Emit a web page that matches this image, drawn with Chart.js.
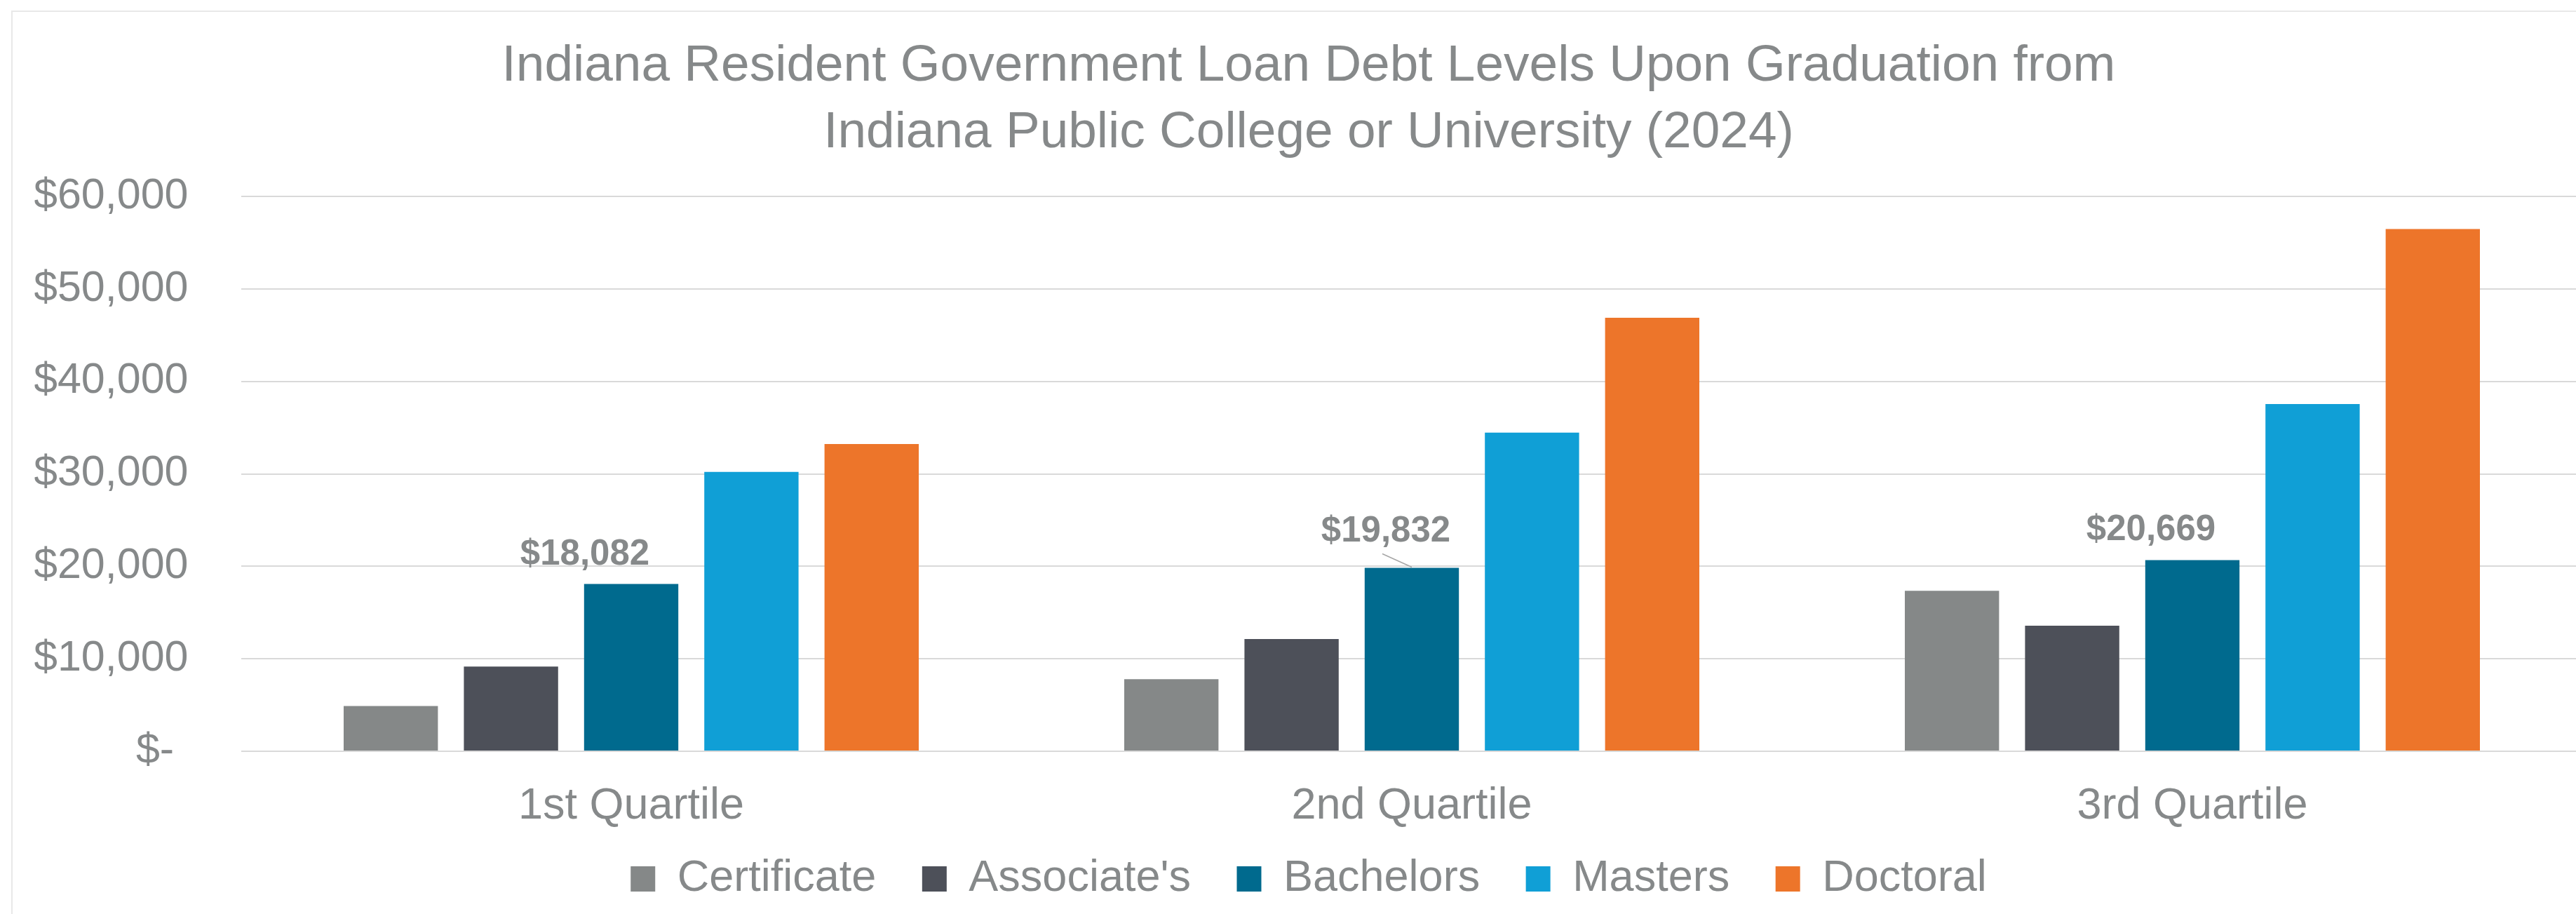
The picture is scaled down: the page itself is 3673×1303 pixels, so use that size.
<!DOCTYPE html>
<html>
<head>
<meta charset="utf-8">
<script src="https://cdn.jsdelivr.net/npm/chart.js@4.4.1/dist/chart.umd.min.js"></script>
<style>
html,body{margin:0;padding:0;background:#ffffff;overflow:hidden;}
#wrap{position:relative;width:3700px;height:1303px;}
</style>
</head>
<body>
<div id="wrap"><canvas id="c"></canvas></div>
<script>
// ---- data ----
const categories = ['1st Quartile', '2nd Quartile', '3rd Quartile'];
const seriesNames = ['Certificate', "Associate's", 'Bachelors', 'Masters', 'Doctoral'];
const certificate = [4890, 7790, 17350];
const associates = [9150, 12140, 13570];
const bachelors = [18082, 19832, 20669];
const masters = [30210, 34450, 37550];
const doctoral = [33220, 46880, 56480];
const yTickValues = [0, 10000, 20000, 30000, 40000, 50000, 60000];
const titleLines = ['Indiana Resident Government Loan Debt Levels Upon Graduation from',
                    'Indiana Public College or University (2024)'];
const labelledSeriesIndex = 2; // Bachelors values are labelled

// ---- styles ----
const seriesColors = ['#858888', '#4D5059', '#006A8E', '#109FD6', '#ED752A'];
const textColor = '#86898A';
const gridColor = '#D9D9D9';
const FONT = '"Liberation Sans", Arial, sans-serif';
// label placement relative to its bar (style only)
const labelStyle = [
  {dx: -66, dy: -28, leader: false},
  {dx: -37, dy: -38, leader: true},
  {dx: -59, dy: -29, leader: false}
];

const seriesValues = [certificate, associates, bachelors, masters, doctoral];

function money(v) {
  if (v === 0) return '$-\u2004';
  return '$' + Math.round(v).toLocaleString('en-US');
}

const chartBorder = {
  id: 'chartBorder',
  beforeDraw(chart) {
    const ctx = chart.ctx;
    ctx.save();
    ctx.fillStyle = '#ffffff';
    ctx.fillRect(0, 0, chart.width, chart.height);
    ctx.strokeStyle = '#E8E8E8';
    ctx.lineWidth = 2;
    ctx.strokeRect(17, 16, chart.width + 100, chart.height + 100);
    ctx.restore();
  }
};

const valueLabels = {
  id: 'valueLabels',
  afterDatasetsDraw(chart) {
    const ctx = chart.ctx;
    const meta = chart.getDatasetMeta(labelledSeriesIndex);
    const vals = chart.data.datasets[labelledSeriesIndex].data;
    ctx.save();
    ctx.font = 'bold 51px ' + FONT;
    ctx.fillStyle = textColor;
    ctx.textAlign = 'center';
    ctx.textBaseline = 'alphabetic';
    meta.data.forEach((bar, i) => {
      const s = labelStyle[i];
      ctx.fillText(money(vals[i]), bar.x + s.dx, bar.y + s.dy);
      if (s.leader) {
        ctx.strokeStyle = '#A6A6A6';
        ctx.lineWidth = 1.5;
        ctx.beginPath();
        ctx.moveTo(bar.x - 42, bar.y - 20);
        ctx.lineTo(bar.x, bar.y - 1);
        ctx.stroke();
      }
    });
    ctx.restore();
  }
};

new Chart(document.getElementById('c'), {
  type: 'bar',
  data: {
    labels: categories,
    datasets: seriesNames.map((n, i) => ({
      label: n,
      data: seriesValues[i],
      backgroundColor: seriesColors[i],
      borderWidth: 0,
      categoryPercentage: 0.770,
      barPercentage: 0.784
    }))
  },
  options: {
    responsive: true,
    maintainAspectRatio: false,
    devicePixelRatio: 1,
    animation: false,
    layout: {padding: {left: 49.5, right: 17.5, top: 0, bottom: 15.5}},
    plugins: {
      title: {
        display: true,
        text: titleLines,
        color: textColor,
        font: {family: FONT, size: 73, weight: 'normal', lineHeight: 95 / 73},
        padding: {top: 47.5, bottom: 42.5}
      },
      legend: {
        display: true,
        position: 'bottom',
        maxHeight: 100,
        labels: {
          color: textColor,
          font: {family: FONT, size: 63},
          boxWidth: 35,
          boxHeight: 36,
          padding: 34,
          generateLabels(chart) {
            const items = Chart.defaults.plugins.legend.labels.generateLabels(chart);
            return items.map((it, i) => {
              if (i < items.length - 1) it.text = it.text + '\u2002';
              return it;
            });
          }
        }
      },
      tooltip: {enabled: false}
    },
    scales: {
      x: {
        grid: {display: false, drawTicks: false},
        border: {display: false},
        ticks: {color: textColor, font: {family: FONT, size: 63}, padding: 41},
        afterFit(s) { s.height = 116.5; }
      },
      y: {
        min: 0,
        max: 60000,
        afterBuildTicks(s) { s.ticks = yTickValues.map(v => ({value: v})); },
        grid: {color: gridColor, lineWidth: 2, drawTicks: false},
        border: {display: false},
        ticks: {color: textColor, font: {family: FONT, size: 61}, padding: 75,
                callback: v => money(v)},
        afterFit(s) { s.width = 294; }
      }
    }
  },
  plugins: [chartBorder, valueLabels]
});
</script>
</body>
</html>
